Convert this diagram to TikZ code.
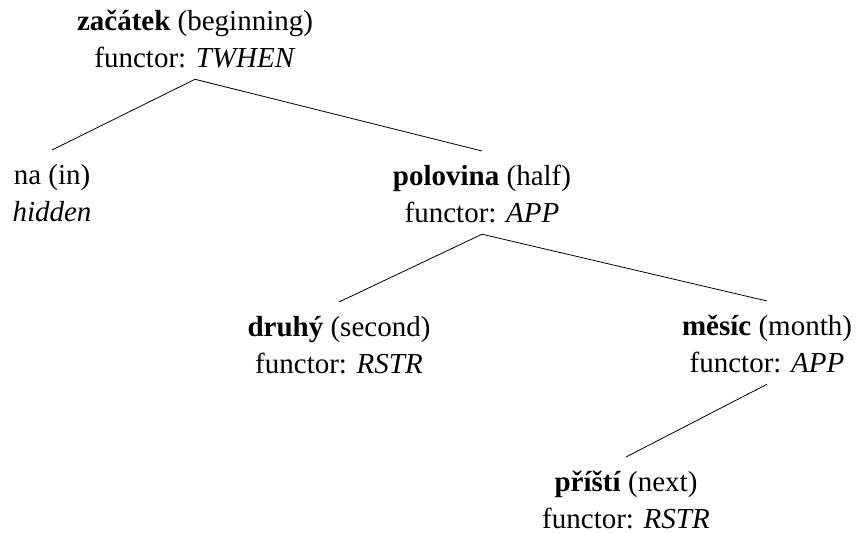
\documentclass[tikz,border=0pt]{standalone}
\usepackage{fontspec}
\setmainfont{Liberation Serif}
\begin{document}
\begin{tikzpicture}[x=1pt,y=-1pt,
  tnode/.style={align=center, inner sep=0pt, anchor=north,
    font=\fontsize{29}{37}\selectfont},
  branch/.style={line width=0.8pt}]
\useasboundingbox (0,0) rectangle (857,534);

% tree nodes (text tops)
\node[tnode] (zacatek)  at (195,10)  {\textbf{začátek} (beginning)\\functor: \textit{TWHEN}};
\node[tnode] (na)       at (52,164)  {na (in)\\\textit{hidden}};
\node[tnode] (polovina) at (482,165) {\textbf{polovina} (half)\\functor: \textit{APP}};
\node[tnode] (druhy)    at (339,316) {\textbf{druhý} (second)\\functor: \textit{RSTR}};
\node[tnode] (mesic)    at (767,315) {\textbf{měsíc} (month)\\functor: \textit{APP}};
\node[tnode] (pristi)   at (626,471) {\textbf{příští} (next)\\functor: \textit{RSTR}};

% branches, leaving a small gap above and below the labels
\draw[branch] ([yshift=-11pt]zacatek.south)  -- ([yshift=14pt]na.north);
\draw[branch] ([yshift=-11pt]zacatek.south)  -- ([yshift=14pt]polovina.north);
\draw[branch] ([yshift=-11pt]polovina.south) -- ([yshift=14pt]druhy.north);
\draw[branch] ([yshift=-11pt]polovina.south) -- ([yshift=14pt]mesic.north);
\draw[branch] ([yshift=-11pt]mesic.south)    -- ([yshift=14pt]pristi.north);
\end{tikzpicture}
\end{document}
